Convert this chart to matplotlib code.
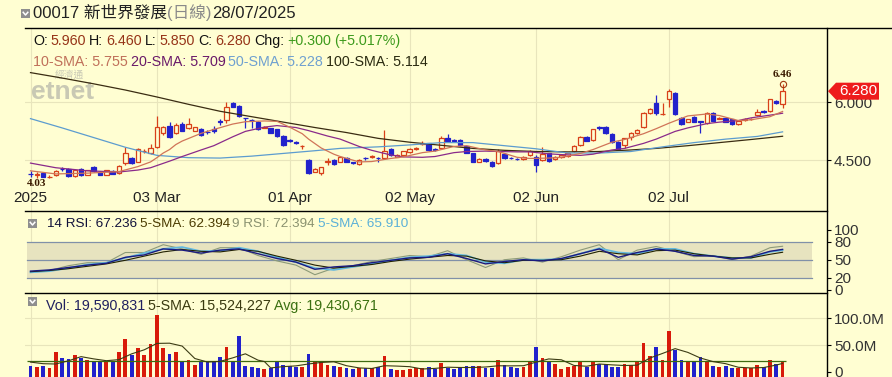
import numpy as np
import matplotlib
matplotlib.use("Agg")
from matplotlib import pyplot as plt
from matplotlib.patches import Rectangle, Polygon
from matplotlib.lines import Line2D
import matplotlib.transforms as mtransforms

W, H = 892, 377
BG = "#FFFED2"
FAM = ["Liberation Sans", "Noto Sans CJK TC", "DejaVu Sans"]
UP, DOWN = "#D8401A", "#2222CC"
VUP = "#D81A0A"

# daily candles, 03/02/2025 .. 28/07/2025
opens = [4.15, 4.12, 4.16, 4.06, 4.10, 4.28, 4.27, 4.09, 4.28, 4.12,
         4.31, 4.19, 4.12, 4.22, 4.16, 4.41, 4.54, 4.46, 4.72, 4.69,
         4.83, 5.19, 5.38, 5.21, 5.42, 5.32, 5.26, 5.29, 5.23, 5.30,
         5.50, 5.53, 5.98, 5.90, 5.59, 5.54, 5.49, 5.34, 5.32, 5.29,
         5.12, 5.01, 4.96, 4.85, 4.50, 4.20, 4.16, 4.46, 4.50, 4.46,
         4.56, 4.44, 4.40, 4.55, 4.59, 4.55, 4.54, 4.78, 4.59, 4.63,
         4.70, 4.78, 4.92, 4.93, 4.78, 4.80, 5.06, 5.01, 5.03, 4.85,
         4.67, 4.46, 4.52, 4.46, 4.41, 4.66, 4.55, 4.53, 4.52, 4.63,
         4.59, 4.50, 4.67, 4.52, 4.57, 4.60, 4.72, 4.89, 5.10, 5.03,
         5.35, 5.36, 5.17, 4.97, 4.89, 5.10, 5.19, 5.35, 5.72, 5.98,
         5.68, 6.09, 6.24, 5.58, 5.49, 5.62, 5.50, 5.45, 5.71, 5.57,
         5.58, 5.55, 5.43, 5.54, 5.55, 5.66, 5.76, 5.77, 6.03, 5.96]
highs = [4.21, 4.18, 4.18, 4.10, 4.24, 4.32, 4.29, 4.25, 4.30, 4.25,
         4.34, 4.21, 4.25, 4.24, 4.36, 4.83, 4.58, 4.80, 4.78, 4.92,
         5.64, 5.38, 5.49, 5.45, 5.47, 5.58, 5.36, 5.32, 5.28, 5.38,
         5.55, 6.00, 6.01, 5.92, 5.59, 5.55, 5.51, 5.37, 5.34, 5.31,
         5.14, 5.05, 4.99, 4.90, 4.52, 4.30, 4.33, 4.54, 4.52, 4.58,
         4.58, 4.46, 4.52, 4.58, 4.62, 4.57, 5.28, 4.80, 4.65, 4.74,
         4.80, 4.84, 5.00, 4.95, 4.80, 5.12, 5.17, 5.04, 5.05, 4.87,
         4.69, 4.54, 4.54, 4.48, 4.78, 4.68, 4.57, 4.55, 4.61, 4.76,
         4.63, 4.83, 4.69, 4.61, 4.65, 4.69, 4.88, 5.12, 5.13, 5.31,
         5.38, 5.38, 5.19, 4.99, 5.08, 5.23, 5.30, 5.75, 5.84, 6.18,
         5.97, 6.33, 6.26, 5.60, 5.57, 5.64, 5.52, 5.75, 5.73, 5.62,
         5.60, 5.57, 5.54, 5.58, 5.59, 5.81, 5.80, 6.09, 6.05, 6.46]
lows = [4.07, 4.03, 4.05, 4.04, 4.08, 4.22, 4.05, 4.07, 4.08, 4.10,
        4.20, 4.10, 4.10, 4.13, 4.14, 4.38, 4.40, 4.44, 4.68, 4.66,
        4.80, 5.15, 5.08, 5.18, 5.24, 5.29, 5.24, 5.12, 5.16, 5.20,
        5.40, 5.45, 5.86, 5.60, 5.32, 5.32, 5.28, 5.32, 5.19, 5.10,
        4.87, 4.96, 4.92, 4.78, 4.14, 4.18, 4.11, 4.37, 4.38, 4.44,
        4.44, 4.40, 4.38, 4.50, 4.55, 4.46, 4.52, 4.61, 4.57, 4.61,
        4.68, 4.76, 4.90, 4.74, 4.72, 4.78, 4.98, 4.97, 4.87, 4.67,
        4.44, 4.44, 4.45, 4.33, 4.39, 4.52, 4.52, 4.50, 4.50, 4.61,
        4.20, 4.48, 4.46, 4.50, 4.55, 4.58, 4.70, 4.87, 4.98, 5.00,
        5.28, 5.17, 4.95, 4.76, 4.80, 5.02, 5.17, 5.33, 5.70, 5.66,
        5.66, 5.88, 5.67, 5.41, 5.47, 5.47, 5.19, 5.43, 5.50, 5.55,
        5.47, 5.41, 5.41, 5.52, 5.53, 5.64, 5.72, 5.75, 5.96, 5.85]
closes = [4.14, 4.13, 4.07, 4.07, 4.22, 4.27, 4.08, 4.24, 4.10, 4.23,
          4.21, 4.12, 4.24, 4.15, 4.34, 4.67, 4.43, 4.78, 4.73, 4.80,
          5.35, 5.35, 5.10, 5.41, 5.26, 5.42, 5.35, 5.15, 5.22, 5.25,
          5.48, 5.88, 5.88, 5.64, 5.58, 5.53, 5.30, 5.35, 5.21, 5.12,
          4.89, 5.00, 4.95, 4.86, 4.17, 4.28, 4.31, 4.47, 4.40, 4.57,
          4.46, 4.43, 4.50, 4.54, 4.60, 4.54, 4.72, 4.63, 4.63, 4.72,
          4.78, 4.81, 4.93, 4.76, 4.76, 5.06, 5.00, 5.00, 4.89, 4.69,
          4.46, 4.52, 4.47, 4.35, 4.72, 4.54, 4.54, 4.52, 4.59, 4.73,
          4.37, 4.66, 4.48, 4.59, 4.63, 4.67, 4.86, 5.10, 5.00, 5.29,
          5.33, 5.19, 4.97, 4.78, 5.06, 5.21, 5.28, 5.72, 5.81, 5.72,
          5.70, 6.29, 5.69, 5.43, 5.55, 5.49, 5.49, 5.71, 5.52, 5.58,
          5.49, 5.43, 5.52, 5.56, 5.57, 5.75, 5.75, 6.07, 5.98, 6.28]
# volume, millions of shares
volumes = [10.7, 8.2, 10.7, 6.3, 36, 25, 24, 31, 25, 21,
           19, 19, 19, 19, 37, 61, 31, 45, 31, 52,
           106, 44, 34, 37, 19, 21, 12.5, 19, 19, 19,
           27, 47, 17.5, 66, 10, 8, 6.3, 5, 6.3, 17.5,
           12.5, 10, 8, 8, 34, 17.5, 19, 12.5, 10, 8,
           6.3, 5, 6.3, 6.3, 6.3, 8, 29, 5.6, 3.8, 3.8,
           5, 6.3, 6.3, 8, 5.6, 15.7, 6.3, 5.6, 6.3, 10.7,
           10.7, 10, 6.3, 6.3, 22, 12, 8, 6, 8, 20.6,
           47, 25, 19, 15, 5.6, 8, 10.7, 18.8, 8, 20.6,
           13.7, 13.7, 8, 8, 14.4, 12, 18.8, 54, 29, 47,
           22, 77, 41, 22, 18.8, 18.8, 27.5, 18.8, 10.7, 8,
           10, 6.3, 6.3, 6.3, 6.3, 12, 8, 22, 13.7, 19.59]

sma10_x = [0, 4, 9, 14, 17, 19, 20, 21, 22, 23, 24, 27, 29, 32, 34, 37, 39, 41, 43, 44,
           46, 48, 49, 52, 54, 57, 59, 62, 64, 67, 69, 72, 74, 77, 79, 82, 84, 87, 89, 92,
           94, 97, 99, 101, 104, 107, 109, 112, 114, 117, 119]
sma10 = [4.22, 4.14, 4.16, 4.20, 4.33, 4.45, 4.56, 4.68, 4.77, 4.90, 4.99, 5.19, 5.29, 5.43,
         5.49, 5.51, 5.50, 5.35, 5.18, 5.04, 4.81, 4.65, 4.59, 4.45, 4.46, 4.54, 4.58, 4.69,
         4.73, 4.85, 4.87, 4.76, 4.72, 4.57, 4.54, 4.55, 4.57, 4.67, 4.77, 4.96, 5.03, 5.18,
         5.31, 5.45, 5.64, 5.69, 5.65, 5.52, 5.54, 5.62, 5.755]
sma20_x = [0, 4, 9, 14, 17, 19, 22, 24, 27, 29, 32, 34, 37, 39, 42, 44, 47, 49, 52, 54,
           57, 59, 62, 64, 67, 69, 72, 74, 77, 79, 82, 84, 87, 89, 92, 94, 97, 99, 102, 104,
           107, 109, 112, 114, 117, 119]
sma20 = [4.42, 4.30, 4.22, 4.19, 4.24, 4.30, 4.47, 4.59, 4.76, 4.87, 5.10, 5.24, 5.35, 5.39,
         5.34, 5.26, 5.12, 5.04, 4.85, 4.75, 4.63, 4.58, 4.57, 4.59, 4.69, 4.72, 4.73, 4.72,
         4.71, 4.71, 4.66, 4.64, 4.62, 4.65, 4.76, 4.80, 4.93, 5.04, 5.24, 5.33, 5.44, 5.48,
         5.52, 5.59, 5.66, 5.709]
sma50_x = [0, 5, 10, 15, 20, 25, 30, 35, 40, 45, 49, 55, 60, 65, 70, 75, 80, 85, 90, 95,
           100, 105, 110, 115, 119]
sma50 = [5.57, 5.33, 5.08, 4.83, 4.62, 4.56, 4.55, 4.60, 4.67, 4.74, 4.80, 4.84, 4.89, 4.95,
         4.95, 4.87, 4.79, 4.68, 4.68, 4.72, 4.84, 4.95, 5.04, 5.11, 5.228]
sma100_x = [0, 5, 10, 15, 20, 25, 30, 35, 40, 45, 50, 55, 60, 65, 70, 75, 80, 85, 90, 95,
            99, 104, 109, 114, 119]
sma100 = [6.76, 6.62, 6.47, 6.31, 6.13, 5.94, 5.76, 5.62, 5.48, 5.34, 5.21, 5.06, 4.96, 4.88,
          4.80, 4.75, 4.72, 4.71, 4.72, 4.76, 4.80, 4.87, 4.95, 5.03, 5.114]

rsi_x = [0, 3, 6, 9, 12, 15, 18, 21, 24, 27, 30, 33, 36, 39, 42, 45, 48, 51, 54, 57,
         60, 63, 66, 69, 72, 75, 78, 81, 84, 87, 90, 93, 96, 99, 102, 105, 108, 111, 114, 117, 119]
rsi14 = [31, 33, 37, 41, 44, 54, 58, 68, 66, 61, 66, 68, 60, 52, 46, 34, 38, 40, 45, 49,
         53, 54, 60, 52, 43, 47, 50, 48, 52, 60, 68, 54, 62, 68, 64, 57, 56, 51, 55, 64, 67.2]
rsi14_sma = [30, 32, 35, 39, 43, 49, 56, 63, 67, 64, 63, 67, 64, 56, 49, 41, 36, 39, 42, 47,
             51, 54, 57, 56, 48, 45, 49, 49, 50, 56, 64, 60, 58, 65, 66, 60, 56, 53, 53, 59, 62.4]
rsi9 = [29, 32, 40, 45, 45, 62, 62, 75, 68, 59, 70, 70, 57, 48, 41, 25, 36, 40, 47, 52,
        57, 55, 65, 50, 37, 50, 53, 46, 55, 66, 75, 50, 66, 72, 64, 55, 57, 50, 56, 70, 72.4]
rsi9_sma = [29, 31, 36, 42, 45, 53, 61, 68, 71, 64, 65, 70, 64, 54, 46, 36, 33, 38, 43, 49,
            54, 56, 60, 57, 46, 44, 50, 50, 51, 60, 69, 62, 60, 68, 68, 60, 56, 53, 53, 63, 65.9]

vsma_x = [0, 2, 4, 6, 8, 10, 12, 14, 16, 18, 20, 22, 24, 26, 28, 30, 32, 34, 36, 37,
          38, 40, 42, 44, 46, 48, 50, 52, 54, 56, 58, 60, 62, 64, 66, 68, 70, 72, 74, 76,
          78, 80, 82, 84, 86, 88, 90, 92, 94, 96, 98, 100, 102, 104, 106, 108, 110, 112, 114, 116,
          118, 119]
vsma = [18, 15, 14.4, 20.4, 28.2, 24, 20.6, 22.6, 33.4, 41, 53, 53.4, 48, 24.7, 18.1, 19.3,
        25.9, 33.5, 21.6, 19.1, 7.1, 9.5, 10.9, 14.5, 17.3, 18.6, 11.2, 7.1, 6.0, 11.2, 10.5,
        9.4, 5.0, 6.2, 8.4, 7.9, 7.9, 8.8, 11.1, 10.9, 11.2, 17.9, 23.9, 22.3, 11.7, 10.2, 14.4,
        12.8, 11.6, 12.2, 25.6, 34.2, 43.2, 36.2, 25.6, 18.9, 15, 8.3, 7.0, 7.8, 12.4, 15.52]
vol_avg = 19.430671

month_pos = [0, 20, 41, 60, 80, 101]
month_labels = ["2025", "03 Mar", "01 Apr", "02 May", "02 Jun", "02 Jul"]

plt.rcParams["font.family"] = FAM

fig = plt.figure(figsize=(W / 100, H / 100), dpi=100, facecolor=BG)


def px(x, y):
    return x / W, 1 - y / H


# candle i sits at pixel 30.5 + 6.32 * i
X0, DX = 30.5, 6.32
XL = ((25 - X0) / DX, (827 - X0) / DX)


def add_ax(top, bottom, ylim):
    ax = fig.add_axes([25 / W, 1 - bottom / H, 802 / W, (bottom - top) / H])
    ax.set_facecolor(BG)
    ax.set_xlim(*XL)
    ax.set_ylim(*ylim)
    for s in ax.spines.values():
        s.set_visible(False)
    ax.yaxis.tick_right()
    ax.tick_params(axis="y", direction="out", length=3, width=0.8, pad=2,
                   labelsize=11, labelcolor="#333333")
    ax.tick_params(axis="x", bottom=False, labelbottom=False)
    for m in month_pos:
        ax.axvline(m, color="#E8E5BC", lw=0.8, zorder=0)
    return ax


ax = add_ax(28, 211, (3.181, 7.914))
ax_r = add_ax(211, 293, (-5.5, 131.2))
ax_v = add_ax(293, 377, (-9.93, 147.4))

# ---- price panel
for yv in (4.5, 6.0):
    ax.axhline(yv, color="#E8E5BC", lw=0.8, zorder=0)
ax.set_yticks([4.5, 6.0], ["4.500", "6.000"])

bw = 0.7
for i, (o, h, l, c) in enumerate(zip(opens, highs, lows, closes)):
    col = UP if c >= o else DOWN
    ax.plot([i, i], [l, h], color=col, lw=0.9, zorder=2, solid_capstyle="butt")
    fc = BG if c >= o else DOWN
    ax.add_patch(Rectangle((i - bw / 2, min(o, c)), bw, abs(c - o), fc=fc, ec=col,
                           lw=0.9, zorder=2.5))

ax.plot(sma100_x, sma100, color="#3A2C12", lw=0.9, zorder=3)
ax.plot(sma50_x, sma50, color="#5C9CCF", lw=0.9, zorder=3)
ax.plot(sma20_x, sma20, color="#8A2A8A", lw=0.9, zorder=3)
ax.plot(sma10_x, sma10, color="#D07458", lw=0.9, zorder=3)

hi = int(np.argmax(highs))
lo = int(np.argmin(lows))
ax.plot(hi, highs[hi], "o", mfc="none", mec="#A03A10", ms=4.5, mew=0.8, zorder=4)
ax.annotate(f"{highs[hi]:.2f}", (hi, highs[hi]), xytext=(0, 3.5), textcoords="offset points",
            ha="center", va="bottom", fontsize=8, fontweight="bold",
            family="Liberation Serif", color="#3A1A00")
ax.annotate(f"{lows[lo]:.2f}", (lo, lows[lo]), xytext=(0, -0.5), textcoords="offset points",
            ha="center", va="top", fontsize=8, fontweight="bold",
            family="Liberation Serif", color="#3A1A00")

tr = mtransforms.blended_transform_factory(ax.transData, ax.transAxes)
for m, lab in zip(month_pos, month_labels):
    ax.text(m, 0.071, lab, transform=tr, ha="center", va="center", fontsize=11, color="#222222")

# watermark
ax.text(*px(31, 92), "etnet", transform=fig.transFigure, fontsize=19, fontweight="bold",
        color="#C9C9B4", va="center", ha="left", zorder=0.5)
ax.text(*px(55, 75), "經濟通", transform=fig.transFigure, fontsize=7,
        color="#CBCBB6", va="center", ha="left", zorder=0.5)

# ---- RSI panel
ax_r.axhspan(20, 80, xmin=0.003, xmax=0.981, color="#E7E3BF", zorder=0.2, lw=0)
for yv in (20, 50, 80):
    ax_r.axhline(yv, xmin=0.003, xmax=0.981, color="#8090A8", lw=0.9, zorder=0.3)
ax_r.plot(rsi_x, rsi9, color="#8C9A78", lw=0.8, zorder=3)
ax_r.plot(rsi_x, rsi9_sma, color="#62B8DE", lw=1.3, zorder=3)
ax_r.plot(rsi_x, rsi14_sma, color="#222200", lw=0.8, zorder=3)
ax_r.plot(rsi_x, rsi14, color="#1A1A80", lw=1.0, zorder=3)
ax_r.set_yticks([0, 20, 50, 80, 100], ["0", "20", "50", "80", "100"])

# ---- volume panel
for yv in (50, 100):
    ax_v.axhline(yv, color="#E8E5BC", lw=0.8, zorder=0)
vb = ax_v.get_ylim()[0]
vcol = [VUP if c >= o else DOWN for o, c in zip(opens, closes)]
ax_v.bar(range(len(volumes)), np.array(volumes) - vb, bottom=vb, width=0.6, color=vcol,
         lw=0, zorder=2)
ax_v.hlines(vol_avg, -0.5, len(volumes) - 0.5, color="#3E6A10", lw=0.9, zorder=3)
ax_v.plot(vsma_x, vsma, color="#3C3C14", lw=0.8, zorder=3)
ax_v.set_yticks([0, 50, 100], ["0", "50.0M", "100.0M"])

# ---- frame lines
for (x1, y1), (x2, y2) in [((25, 28), (892, 28)), ((25, 211), (827, 211)),
                           ((25, 293), (827, 293)), ((827, 28), (827, 377))]:
    a, b = px(x1, y1), px(x2, y2)
    fig.add_artist(Line2D([a[0], b[0]], [a[1], b[1]], color="black", lw=1.0))

# last close tag
fig.canvas.draw()
yc = H - ax.transData.transform((0, closes[-1]))[1]
tag = [(828, yc), (836, yc - 8.5), (879, yc - 8.5), (879, yc + 8.5), (836, yc + 8.5)]
fig.add_artist(Polygon([px(*p) for p in tag], closed=True, transform=fig.transFigure,
                       fc="#EE1C1C", ec="none", zorder=5))
fig.text(*px(858, yc), f"{closes[-1]:.3f}", color="white", fontsize=11, ha="center",
         va="center", zorder=6)


# ---- header texts
def icon(x, y, s=9):
    fig.add_artist(Rectangle(px(x, y + s), s / W, s / H, transform=fig.transFigure,
                             fc="#8E8E8E", ec="none"))
    xs = [x + 2.2, x + s / 2, x + s - 2.2]
    ys = [y + 3.3, y + 6, y + 3.3]
    fig.add_artist(Line2D([v / W for v in xs], [1 - v / H for v in ys], color="white", lw=1.1))


def row(x, y, parts, size, gap=3.0):
    r = fig.canvas.get_renderer()
    for s, c in parts:
        t = fig.text(*px(x, y), s, color=c, fontsize=size, va="center", ha="left")
        x += t.get_window_extent(r).width + gap


K = "#111111"
V = "#963418"
G = "#3C9A1C"
icon(21, 9)
row(33, 13, [("00017 新世界發展", "#222222"), ("(日線)", "#8A8A8A"), ("28/07/2025", "#222222")],
    12, gap=0.5)
row(33, 41, [("O:", K), ("5.960", V), ("H:", K), ("6.460", V), ("L:", K), ("5.850", V),
             ("C:", K), ("6.280", V), ("Chg:", K), ("+0.300", G), ("(+5.017%)", G)], 10.3)
row(33, 62, [("10-SMA: 5.755", "#C0705A"), ("20-SMA: 5.709", "#6A1A6A"),
             ("50-SMA: 5.228", "#6FA0D0"), ("100-SMA: 5.114", "#2A2A10")], 10.3)
icon(28, 219)
row(47, 224, [("14 RSI: 67.236", "#10103A"), ("5-SMA: 62.394", "#4A3A00"),
              ("9 RSI: 72.394", "#8A9270"), ("5-SMA: 65.910", "#5AB0D8")], 9.7, gap=2.5)
icon(28, 297)
row(46, 306, [("Vol: 19,590,831", "#202060"), ("5-SMA: 15,524,227", "#3A3A10"),
              ("Avg: 19,430,671", "#3A7010")], 10.3)

fig.savefig("out.png", dpi=100, facecolor=BG)
